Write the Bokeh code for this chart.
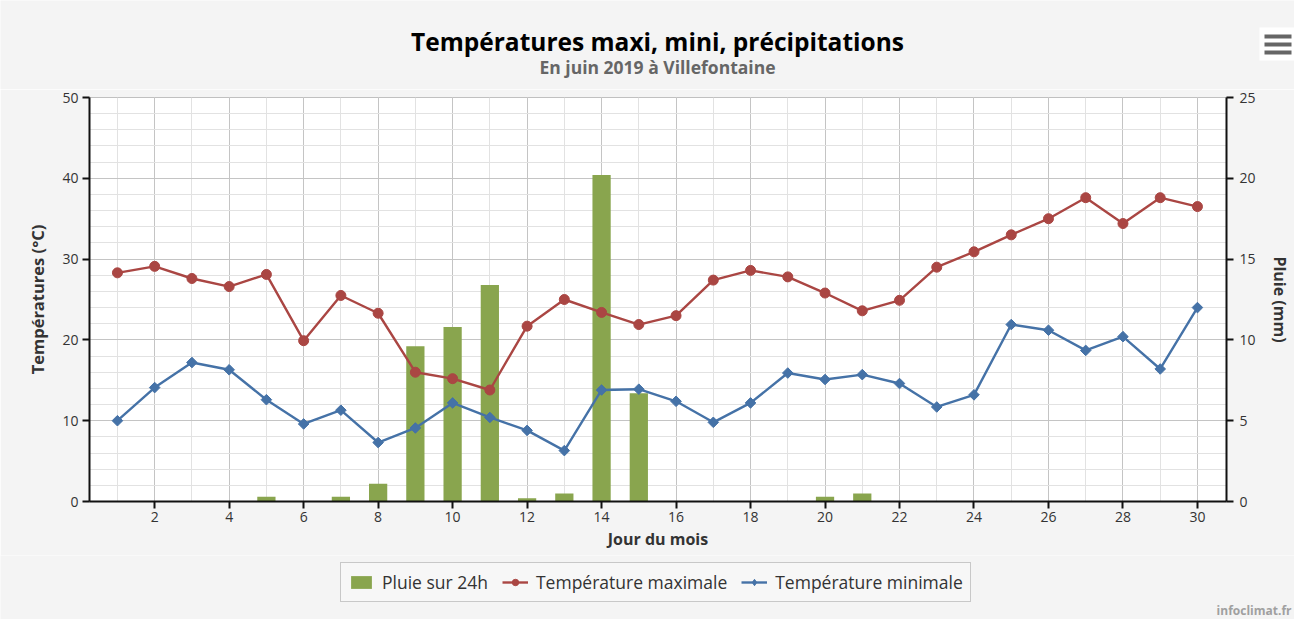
import numpy as np
from bokeh.plotting import figure
from bokeh.layouts import column
from bokeh.models import (Range1d, LinearAxis, SingleIntervalTicker, Label, Legend, LegendItem)
from bokeh.embed import file_html
from bokeh.resources import INLINE

days = list(range(1, 31))
tmax = [28.3, 29.1, 27.6, 26.6, 28.1, 19.9, 25.5, 23.3, 16.0, 15.2,
        13.8, 21.7, 25.0, 23.4, 21.9, 23.0, 27.4, 28.6, 27.8, 25.8,
        23.6, 24.9, 29.0, 30.9, 33.0, 35.0, 37.6, 34.4, 37.6, 36.5]
tmin = [10.0, 14.1, 17.2, 16.3, 12.6, 9.6, 11.3, 7.3, 9.1, 12.2,
        10.4, 8.8, 6.3, 13.8, 13.9, 12.4, 9.8, 12.2, 15.9, 15.1,
        15.7, 14.6, 11.7, 13.2, 21.9, 21.2, 18.7, 20.4, 16.4, 24.0]
rain = [0, 0, 0, 0, 0.3, 0, 0.3, 1.1, 9.6, 10.8,
        13.4, 0.2, 0.5, 20.2, 6.7, 0, 0, 0, 0, 0.3,
        0.5, 0, 0, 0, 0, 0, 0, 0, 0, 0]

title_txt = "Températures maxi, mini, précipitations"
subtitle_txt = "En juin 2019 à Villefontaine"
xlabel = "Jour du mois"
ylabel = "Températures (°C)"
y2label = "Pluie (mm)"
lab_rain = "Pluie sur 24h"
lab_max = "Température maximale"
lab_min = "Température minimale"
credit = "infoclimat.fr"

C_BLUE = "#4572A7"
C_RED = "#AA4643"
C_GREEN = "#89A54E"
FONT = "Open Sans"
TXT = "#333333"
BG = "#f4f4f4"

W = 1294
HH, HM, HF = 89, 466, 64   # header, main, footer heights


def blank(height):
    f = figure(width=W, height=height, output_backend="svg", toolbar_location=None,
               x_range=Range1d(0, W), y_range=Range1d(0, height),
               x_axis_type=None, y_axis_type=None,
               min_border=0, min_border_left=0, min_border_right=0,
               min_border_top=0, min_border_bottom=0, frame_align=False)
    f.grid.visible = False
    f.outline_line_color = None
    f.background_fill_color = BG
    f.border_fill_color = BG
    return f

# ---------------- header ----------------
ph = blank(HH)
ph.add_layout(Label(x=657, y=HH - 41, text=title_txt, text_align="center",
                    text_baseline="middle", text_font=FONT, text_font_size="24.5px",
                    text_font_style="bold", text_color="#000000"))
ph.add_layout(Label(x=657, y=HH - 66, text=subtitle_txt, text_align="center",
                    text_baseline="middle", text_font=FONT, text_font_size="17.5px",
                    text_font_style="bold", text_color="#666666"))
# export-menu button (decoration)
ph.quad(left=[1259], right=[1294], top=[HH - 27], bottom=[HH - 60],
        fill_color="white", line_color=None)
ph.quad(left=[1264, 1264, 1264], right=[1291, 1291, 1291],
        top=[HH - 34, HH - 42, HH - 50], bottom=[HH - 38, HH - 46, HH - 54],
        fill_color="#666666", line_color=None)

# ---------------- main chart ----------------
p = figure(width=W, height=HM, output_backend="svg", toolbar_location=None,
           x_range=Range1d(0.25, 30.78), y_range=Range1d(0, 50), frame_align=False,
           min_border_left=89, min_border_right=68, min_border_top=8, min_border_bottom=54)
p.extra_y_ranges = {"rain": Range1d(0, 25)}
p.background_fill_color = "white"
p.border_fill_color = BG
p.outline_line_color = "#c0c0c0"
p.outline_line_width = 1

xt = SingleIntervalTicker(interval=2, num_minor_ticks=2)
yt = SingleIntervalTicker(interval=10, num_minor_ticks=5)
p.xaxis.ticker = xt
p.yaxis.ticker = yt
p.xgrid.ticker = xt
p.ygrid.ticker = yt
for g in (p.xgrid, p.ygrid):
    g.grid_line_color = "#c4c4c4"
    g.grid_line_width = 1
    g.minor_grid_line_color = "#e2e2e2"
    g.minor_grid_line_width = 1

p.vbar(x=days, top=rain, width=0.49, bottom=0, y_range_name="rain",
       fill_color=C_GREEN, line_color=None)
p.line(days, tmax, line_color=C_RED, line_width=2.4)
p.scatter(days, tmax, marker="circle", size=10, fill_color=C_RED, line_color=C_RED)
p.line(days, tmin, line_color=C_BLUE, line_width=2.4)
p.scatter(days, tmin, marker="square", angle=np.pi / 4, size=7.5,
          fill_color=C_BLUE, line_color=C_BLUE)


def style_axis(ax):
    ax.axis_line_color = "#111111"
    ax.axis_line_width = 2
    ax.major_tick_line_color = "#111111"
    ax.major_tick_line_width = 2
    ax.major_tick_out = 7
    ax.major_tick_in = 0
    ax.minor_tick_line_color = None
    ax.major_label_text_font = FONT
    ax.major_label_text_font_size = "14px"
    ax.major_label_text_color = TXT
    ax.axis_label_text_font = FONT
    ax.axis_label_text_font_size = "16px"
    ax.axis_label_text_font_style = "bold"
    ax.axis_label_text_color = TXT


style_axis(p.xaxis[0])
style_axis(p.yaxis[0])
p.xaxis.axis_label = xlabel
p.xaxis.major_label_standoff = 3
p.xaxis.axis_label_standoff = 3
p.yaxis.axis_label = ylabel
p.yaxis.axis_label_text_font_size = "16.5px"
p.yaxis.axis_label_standoff = 10
p.yaxis.major_label_standoff = 4

ax2 = LinearAxis(y_range_name="rain", ticker=SingleIntervalTicker(interval=5),
                 axis_label=y2label)
style_axis(ax2)
ax2.axis_label_standoff = 10
ax2.major_label_standoff = 6
p.add_layout(ax2, "right")

# ---------------- footer: legend + credit ----------------
pf = blank(HF)
# legend swatches: same series, drawn on an off-screen range so only the legend shows them
pf.extra_y_ranges = {"off": Range1d(1000, 2000)}
g1 = pf.vbar(x=days, top=rain, width=1, fill_color=C_GREEN, line_color=None, y_range_name="off")
g2 = pf.line(x=days, y=tmax, line_color=C_RED, line_width=2.4, y_range_name="off")
g3 = pf.scatter(x=days, y=tmax, marker="circle", size=10, fill_color=C_RED, line_color=C_RED,
                y_range_name="off")
g4 = pf.line(x=days, y=tmin, line_color=C_BLUE, line_width=2.4, y_range_name="off")
g5 = pf.scatter(x=days, y=tmin, marker="diamond", size=13,
                fill_color=C_BLUE, line_color=C_BLUE, y_range_name="off")
legend = Legend(items=[LegendItem(label=lab_rain, renderers=[g1]),
                       LegendItem(label=lab_max, renderers=[g2, g3]),
                       LegendItem(label=lab_min, renderers=[g4, g5])],
                orientation="horizontal", location=(340, HF - 47))
legend.label_text_font = FONT
legend.label_text_font_size = "17.5px"
legend.label_text_color = TXT
legend.glyph_width = 26
legend.glyph_height = 16
legend.label_standoff = 8
legend.spacing = 14
legend.padding = 7
legend.margin = 0
legend.border_line_color = "#999999"
legend.border_line_width = 1
legend.background_fill_color = "#f7f7f7"
legend.background_fill_alpha = 1
pf.add_layout(legend, "center")
pf.add_layout(Label(x=1291, y=HF - 55, text=credit, text_align="right",
                    text_baseline="middle", text_font=FONT, text_font_size="12px",
                    text_font_style="bold", text_color="#a0a0a0"))

layout = column(ph, p, pf, spacing=0)
open("out.html", "w").write(file_html(layout, INLINE))
